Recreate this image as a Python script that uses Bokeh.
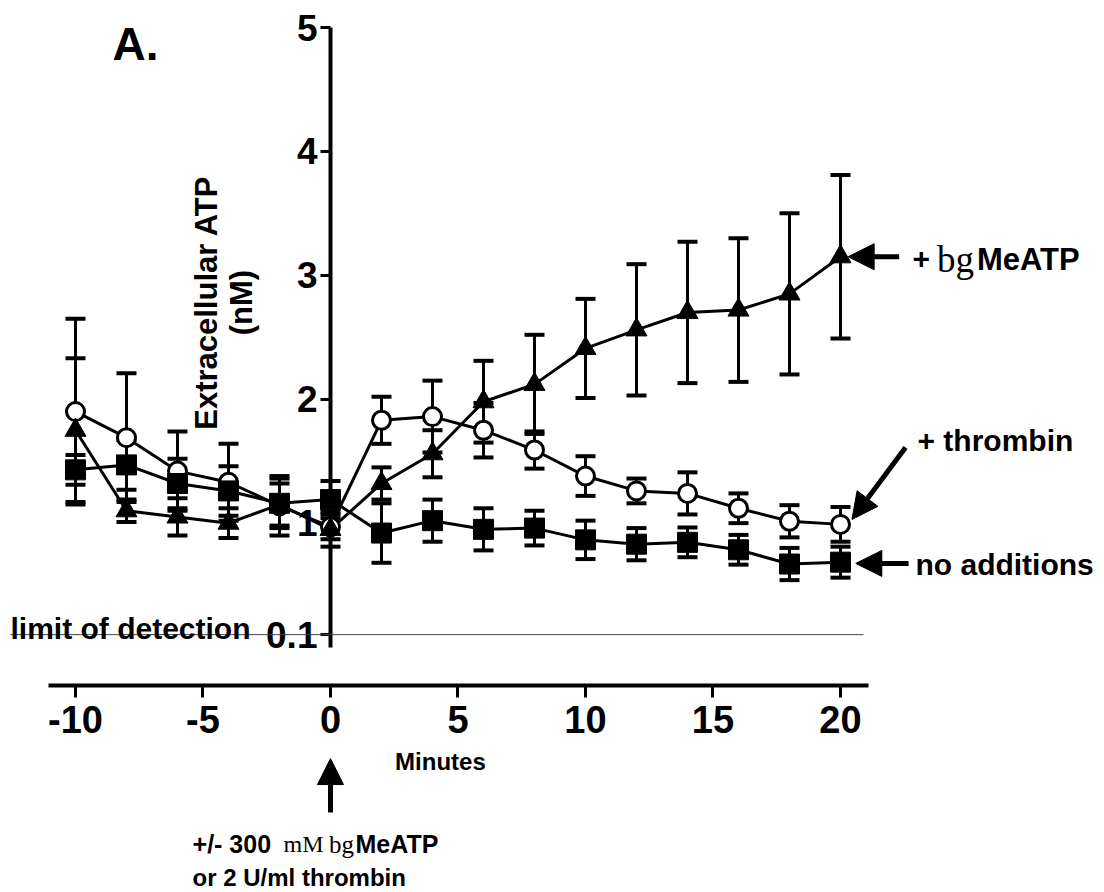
import math
from bokeh.plotting import figure
from bokeh.models import (ColumnDataSource, Range1d, LinearAxis, FixedTicker, Whisker,
                          TeeHead, Arrow, NormalHead, CustomJSTickFormatter)
from bokeh.core.properties import value
from bokeh.embed import file_html
from bokeh.resources import INLINE

# ---------------- data ----------------
minutes = [-10, -8, -6, -4, -2, 0, 2, 4, 6, 8, 10, 12, 14, 16, 18, 20]

# + bgMeATP (filled triangles)
atp_mean = [1.75, 1.10, 1.05, 1.00, 1.15, 0.95, 1.32, 1.56, 1.98, 2.12, 2.41, 2.56, 2.70, 2.72, 2.85, 3.15]
atp_err = [0.58, 0.09, 0.15, 0.12, 0.17, 0.14, 0.13, 0.19, 0.33, 0.40, 0.40, 0.53, 0.57, 0.58, 0.65, 0.66]

# + thrombin (open circles)
thr_mean = [1.90, 1.69, 1.42, 1.33, 1.14, 0.97, 1.83, 1.86, 1.75, 1.59, 1.38, 1.26, 1.24, 1.12, 1.015, 0.99]
thr_err = [0.75, 0.52, 0.32, 0.31, 0.24, 0.10, 0.19, 0.29, 0.22, 0.15, 0.16, 0.10, 0.17, 0.12, 0.13, 0.14]

# no additions (filled squares)
ctl_mean = [1.43, 1.47, 1.32, 1.26, 1.16, 1.19, 0.92, 1.02, 0.95, 0.96, 0.865, 0.83, 0.845, 0.785, 0.67, 0.685]
ctl_err = [0.12, 0.20, 0.20, 0.20, 0.20, 0.15, 0.24, 0.17, 0.17, 0.14, 0.155, 0.13, 0.12, 0.12, 0.13, 0.125]

x_ticks = [-10, -5, 0, 5, 10, 15, 20]
y_ticks = [0.1, 1, 2, 3, 4, 5]
limit_of_detection = 0.1

SANS = value("Liberation Sans")
SERIF = value("Liberation Serif")

p = figure(width=1104, height=892,
           x_range=Range1d(-12.941, 30.353), y_range=Range1d(-1.981, 5.218),
           x_axis_type=None, y_axis_type=None,
           toolbar_location=None, output_backend="svg",
           min_border=0, outline_line_color=None)
p.background_fill_color = "white"

fmt = CustomJSTickFormatter(code="return String(tick);")

yaxis = LinearAxis(fixed_location=0, bounds=(0, 5), ticker=FixedTicker(ticks=y_ticks),
                   formatter=fmt)
xaxis = LinearAxis(fixed_location=-0.31, bounds=(-11.05, 21.1), ticker=FixedTicker(ticks=x_ticks),
                   formatter=fmt)
for ax, tick_out, standoff, fsize in ((yaxis, 10, 3, "37px"), (xaxis, 12, 9, "38px")):
    ax.axis_line_width = 4
    ax.axis_line_color = "black"
    ax.major_tick_line_width = 3
    ax.major_tick_out = tick_out
    ax.major_tick_in = 0
    ax.minor_tick_out = 0
    ax.minor_tick_in = 0
    ax.major_label_text_font = "Liberation Sans"
    ax.major_label_text_font_style = "bold"
    ax.major_label_text_font_size = fsize
    ax.major_label_text_color = "black"
    ax.major_label_standoff = standoff
yaxis.level = "underlay"
p.add_layout(yaxis, "left")
p.add_layout(xaxis, "below")

# limit of detection line
p.segment(x0=[-12.55], y0=[limit_of_detection], x1=[20.9], y1=[limit_of_detection],
          line_width=1, line_color="#444444")

series = [
    (thr_mean, thr_err, "circle", 18, "white", 3),
    (ctl_mean, ctl_err, "square", 20, "black", 1),
    (atp_mean, atp_err, "triangle", 21, "black", 1),
]
sources = []
for mean, err, marker, size, fill, lw in series:
    src = ColumnDataSource(dict(x=minutes, y=mean,
                                upper=[m + e for m, e in zip(mean, err)],
                                lower=[m - e for m, e in zip(mean, err)]))
    sources.append((src, marker, size, fill, lw))
    p.add_layout(Whisker(source=src, base="x", upper="upper", lower="lower",
                         line_width=3, line_color="black",
                         upper_head=TeeHead(size=20, line_width=4, line_color="black"),
                         lower_head=TeeHead(size=20, line_width=4, line_color="black")))
for src, *_ in sources:
    p.line("x", "y", source=src, line_width=3, line_color="black")
for src, marker, size, fill, lw in sources:
    p.scatter("x", "y", source=src, marker=marker, size=size, fill_color=fill,
              line_color="black", line_width=lw)

# ---------------- texts ----------------
def txt(x, y, s, size, font=SANS, style="bold", align="left", baseline="middle", angle=0.0):
    p.text(x=[x], y=[y], text=[s], text_font=font, text_font_style=style,
           text_font_size=size, text_align=align, text_baseline=baseline,
           angle=angle, text_color="black")

txt(-7.65, 4.87, "A.", "46px", align="center")
txt(-4.85, 2.78, "Extracellular ATP", "31px", align="center", angle=math.pi / 2)
txt(-3.50, 2.78, "(nM)", "31px", align="center", angle=math.pi / 2)
txt(4.31, -0.924, "Minutes", "24px", align="center")
txt(-12.55, 0.15, "limit of detection", "30px", baseline="alphabetic")

# right-hand labels
txt(22.82, atp_mean[-1] - 0.02, "+", "30px")
txt(23.78, atp_mean[-1] - 0.02, "bg", "37px", font=SERIF, style="normal")
txt(25.35, atp_mean[-1] - 0.02, "MeATP", "31px")
txt(23.02, 1.667, "+ thrombin", "30px")
txt(22.94, ctl_mean[-1] - 0.02, "no additions", "30px")

# bottom annotation
txt(-5.41, -1.59, "+/- 300", "25px", baseline="alphabetic")
txt(-1.84, -1.59, "mM", "24px", font=SERIF, style="normal", baseline="alphabetic")
txt(-0.06, -1.59, "bg", "25px", font=SERIF, style="normal", baseline="alphabetic")
txt(0.98, -1.59, "MeATP", "25px", baseline="alphabetic")
txt(-5.41, -1.86, "or 2 U/ml thrombin", "24px", baseline="alphabetic")

# arrows
def arrow(xs, ys, xe, ye):
    p.add_layout(Arrow(end=NormalHead(size=26, fill_color="black", line_color="black"),
                       x_start=xs, y_start=ys, x_end=xe, y_end=ye,
                       line_width=5, line_color="black"))

arrow(22.3, atp_mean[-1], minutes[-1] + 0.3, atp_mean[-1])
arrow(22.55, 1.61, minutes[-1] + 0.45, thr_mean[-1] + 0.04)
arrow(22.67, ctl_mean[-1] - 0.01, minutes[-1] + 0.6, ctl_mean[-1] - 0.01)
arrow(0, -1.335, 0, -0.90)

open("out.html", "w").write(file_html(p, INLINE))
